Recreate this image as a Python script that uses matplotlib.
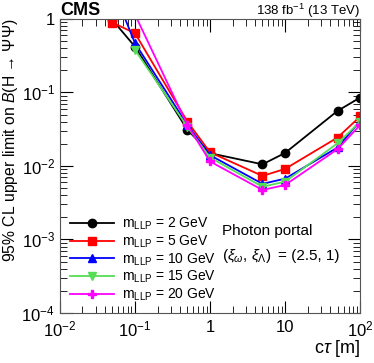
import numpy as np
import matplotlib.pyplot as plt

plt.rcParams['font.family'] = ['Liberation Sans', 'DejaVu Sans']
plt.rcParams['mathtext.fontset'] = 'custom'
plt.rcParams['mathtext.rm'] = 'Liberation Sans'
plt.rcParams['mathtext.it'] = 'Liberation Sans:italic'

# lifetimes c*tau [m]
ctau = [0.05, 0.1, 0.5, 1, 5, 10, 50, 100]

# 95% CL upper limits per LLP mass
lim_2 = [0.97, 0.42, 0.031, 0.0149, 0.0105, 0.015, 0.056, 0.085]
lim_5 = [0.89, 0.64, 0.040, 0.0153, 0.0073, 0.0091, 0.0243, 0.047]
lim_10 = [2.7, 0.47, 0.036, 0.014, 0.0057, 0.0067, 0.0178, 0.041]
lim_15 = [np.nan, 0.38, 0.034, 0.013, 0.0052, 0.0061, 0.0203, 0.040]
lim_20 = [5.0, 1.15, 0.036, 0.0115, 0.0047, 0.0055, 0.0169, 0.036]

labels = ['2', '5', '10', '15', '20']
series = [lim_2, lim_5, lim_10, lim_15, lim_20]
colors = ['black', '#ff0000', '#0000ff', '#55dd55', '#ff00ff']
markers = ['o', 's', '^', 'v', 'P']

fig = plt.figure(figsize=(3.74, 3.63), dpi=100)
ax = fig.add_axes([0.160, 0.138, 0.803, 0.810])

for vals, lab, c, m in zip(series, labels, colors, markers):
    ax.plot(ctau, vals, color=c, marker=m, markersize=6, lw=1.3,
            label=r'm$_{\mathregular{LLP}}$ = ' + lab + ' GeV')

ax.set_xscale('log')
ax.set_yscale('log')
ax.set_xlim(1e-2, 1e2)
ax.set_ylim(1e-4, 1)

ax.set_xticks([1e-2, 1e-1, 1, 10, 1e2])
ax.set_xticklabels([r'10$^{-2}$', r'10$^{-1}$', '1', '10', r'10$^{2}$'])
ax.set_yticks([1e-4, 1e-3, 1e-2, 1e-1, 1])
ax.set_yticklabels([r'10$^{-4}$', r'10$^{-3}$', r'10$^{-2}$', r'10$^{-1}$', '1'])
ax.tick_params(which='both', direction='in', top=True, right=True, labelsize=12)
ax.tick_params(which='major', length=9)
ax.tick_params(which='minor', length=5)
ax.tick_params(axis='x', pad=5)
for s in ax.spines.values():
    s.set_color('#555555')

ax.set_xlabel(r'c$\tau$ [m]', fontsize=13, loc='right', labelpad=-1)
ax.set_ylabel('95% CL upper limit on $\\mathit{B}$(H \u2192 $\\mathit{\\Psi\\Psi}$)',
              fontsize=11.3, loc='top')
ax.yaxis.set_label_coords(-0.133, 1.0)

ax.text(0.0, 1.013, 'CMS', transform=ax.transAxes, fontsize=13,
        fontweight='bold', ha='left', va='baseline')
ax.text(1.0, 1.013, r'138 fb$^{-1}$ (13 TeV)', transform=ax.transAxes,
        fontsize=9.5, ha='right', va='baseline')

ax.text(0.54, 0.265, 'Photon portal', transform=ax.transAxes, fontsize=11,
        va='baseline')
ax.text(0.54, 0.18, r'($\xi_{\omega}$, $\xi_{\Lambda}$)', transform=ax.transAxes,
        fontsize=11, va='baseline')
ax.text(0.725, 0.18, '= (2.5, 1)', transform=ax.transAxes,
        fontsize=11, va='baseline')

ax.legend(loc='lower left', bbox_to_anchor=(0.0, 0.0), frameon=False,
          fontsize=10, handlelength=3.2, labelspacing=0.1, handletextpad=0.6,
          borderaxespad=0.3)

fig.savefig('out.png', dpi=100)
